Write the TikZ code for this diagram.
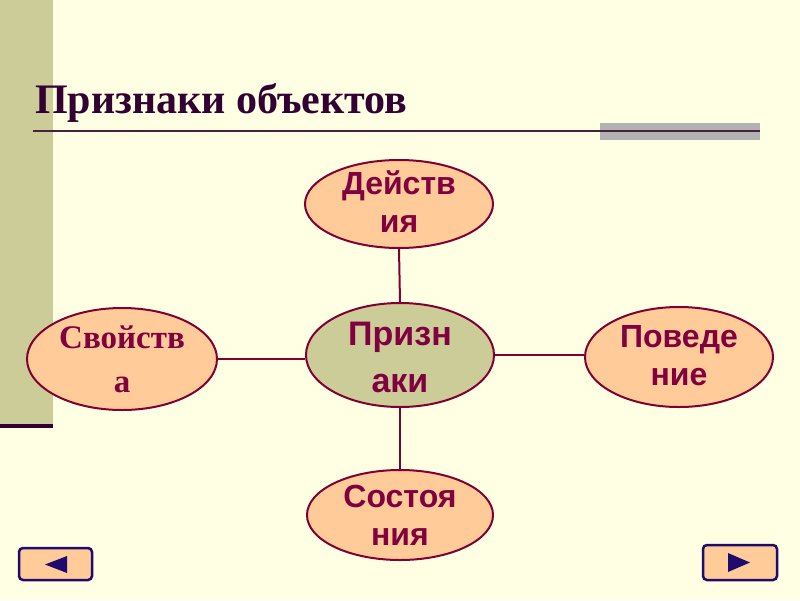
\documentclass[tikz,border=0pt]{standalone}
\usepackage{fontspec}
\setmainfont{Liberation Serif}
\newfontfamily\arialb{Liberation Sans}
\usetikzlibrary{shapes.geometric,calc}
\definecolor{bg}{HTML}{FFFFE3}
\definecolor{khaki}{HTML}{CCCC99}
\definecolor{peach}{HTML}{FFCC99}
\definecolor{wine}{HTML}{800033}
\definecolor{txtcol}{HTML}{800040}
\definecolor{titlecol}{HTML}{330033}
\definecolor{tline}{HTML}{4A2040}
\definecolor{grayband}{HTML}{B2B2B2}
\definecolor{navy}{HTML}{1F0A6E}
\tikzset{
  bubble/.style={ellipse, draw=wine, line width=2pt, fill=peach, inner sep=0pt},
  hub/.style={bubble, fill=khaki},
  sanslabel/.style={align=center, text=txtcol, inner sep=0pt, font=\arialb\bfseries\fontsize{32}{38}\selectfont},
  seriflabel/.style={align=center, text=txtcol, inner sep=0pt, font=\bfseries\fontsize{33}{44}\selectfont},
  conn/.style={draw=wine, line width=2pt},
  navbtn/.style={draw=navy, line width=2.5pt, fill=peach, rounded corners=4pt, inner sep=0pt}
}
\begin{document}
\begin{tikzpicture}[x=1pt,y=-1pt]
\fill[bg] (0,0) rectangle (800,600);
\useasboundingbox (0,0) rectangle (800,600);
% left bar
\fill[khaki] (0,0) rectangle (53,425);
\fill[titlecol] (0,424) rectangle (53,428);
% title
\node[anchor=base west, inner sep=0pt, text=titlecol, font=\bfseries\fontsize{42}{50}\selectfont] (title) at (35,113) {Признаки объектов};
\fill[grayband] (600,123) rectangle (760,140);
\draw[tline, line width=2pt] (33,131) -- (760,131);
% ellipses
\node[bubble, minimum width=188pt, minimum height=88pt] (top) at (399,204) {};
\node[hub, minimum width=188pt, minimum height=104pt] (hubn) at (400,355) {};
\node[bubble, minimum width=190pt, minimum height=102pt] (left) at (122,359) {};
\node[bubble, minimum width=188pt, minimum height=100pt] (right) at (679,357) {};
\node[bubble, minimum width=186pt, minimum height=90pt] (bottom) at (400,515) {};
% connectors
\draw[conn] (top.south) -- (hubn.north);
\draw[conn] (hubn.south) -- (bottom.north);
\draw[conn] (left.east) -- (left.east -| hubn.west);
\draw[conn] (hubn.east) -- (hubn.east -| right.west);
% labels
\node[sanslabel] (ttop) at (399,202) {Действ\\ия};
\node[sanslabel, font=\arialb\bfseries\fontsize{34}{47}\selectfont] (thub) at (400,357) {Призн\\аки};
\node[seriflabel] (tleft) at (122,359) {Свойств\\а};
\node[sanslabel] (tright) at (679,356) {Поведе\\ние};
\node[sanslabel] (tbottom) at (400,515) {Состоя\\ния};
% buttons
\node[navbtn, minimum width=73pt, minimum height=32pt] (lbtn) at (55.5,564) {};
\node[navbtn, minimum width=74pt, minimum height=35pt] (rbtn) at (740,562.5) {};
\fill[navy] ($(lbtn.center)+(-10.5,0.5)$) -- ($(lbtn.center)+(11.5,-8)$) -- ($(lbtn.center)+(11.5,9)$) -- cycle;
\fill[navy] ($(rbtn.center)+(10,0)$) -- ($(rbtn.center)+(-12,-9.5)$) -- ($(rbtn.center)+(-12,9.5)$) -- cycle;
\end{tikzpicture}
\end{document}
